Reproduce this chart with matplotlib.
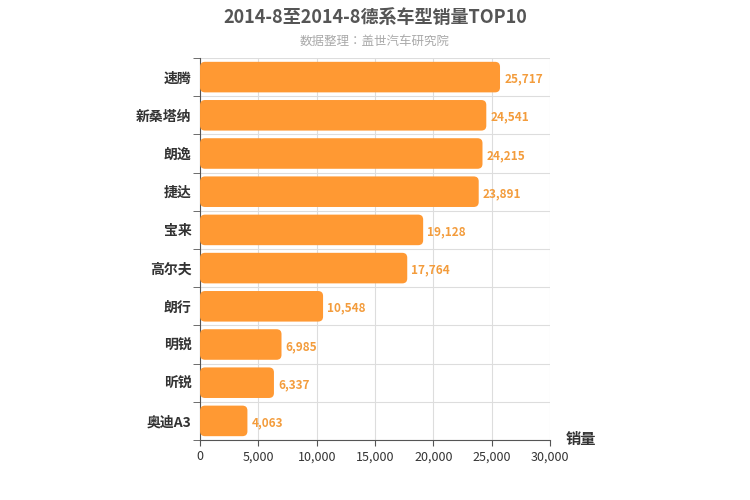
import matplotlib
matplotlib.use("Agg")
import matplotlib.pyplot as plt
from matplotlib.patches import FancyBboxPatch
from matplotlib import font_manager as fm

cjk = [f for f in fm.fontManager.ttflist if "CJK" in f.name]
names = sorted(set(f.name for f in cjk))
pick = next((n for n in names if "SC" in n), names[0] if names else "DejaVu Sans")
plt.rcParams["font.family"] = [pick, "DejaVu Sans"]

categories = ["速腾", "新桑塔纳", "朗逸", "捷达", "宝来", "高尔夫", "朗行", "明锐", "昕锐", "奥迪A3"]
values = [25717, 24541, 24215, 23891, 19128, 17764, 10548, 6985, 6337, 4063]
xticks = [0, 5000, 10000, 15000, 20000, 25000, 30000]

fig = plt.figure(figsize=(7.5, 5), dpi=100)
ax = fig.add_axes([0.2667, 0.12, 0.4666, 0.764])
n = len(categories)
ax.set_xlim(0, 30000)
ax.set_ylim(n - 0.5, -0.5)
color = "#FF9933"
for i, v in enumerate(values):
    p = FancyBboxPatch((0, i - 0.4), v, 0.8,
                       boxstyle="round,pad=0,rounding_size=430",
                       mutation_aspect=0.0003, fc=color, ec="none", zorder=3)
    ax.add_patch(p)
    ax.text(v + 350, i + 0.05, f"{v:,}", va="center", ha="left", color="#F39C3C",
            fontsize=8.5, fontweight="bold", zorder=4)
ax.set_xticks(xticks)
ax.set_xticklabels([f"{t:,}" for t in xticks], fontsize=9, color="#333")
ax.set_yticks(range(n))
ax.set_yticklabels(categories, fontsize=10, fontweight="bold", color="#333")
ax.tick_params(axis="y", length=0, pad=6)
ax.tick_params(axis="x", length=4, color="#555")
ax.set_yticks([i + 0.5 for i in range(-1, n)], minor=True)
ax.tick_params(axis="y", which="minor", length=5, color="#555")
ax.grid(axis="x", color="#dddddd", lw=0.8, zorder=0)
ax.grid(axis="y", which="minor", color="#dddddd", lw=0.8, zorder=0)
for s in ["top", "right"]:
    ax.spines[s].set_visible(False)
ax.spines["left"].set_color("#555")
ax.spines["bottom"].set_color("#555")
fig.text(0.5, 0.965, "2014-8至2014-8德系车型销量TOP10", ha="center", va="center",
         fontsize=13, fontweight="bold", color="#555")
fig.text(0.5, 0.918, "数据整理：盖世汽车研究院", ha="center", va="center",
         fontsize=9, color="#aaaaaa")
fig.text(0.775, 0.122, "销量", ha="center", va="center", fontsize=11,
         fontweight="bold", color="#333")
fig.savefig("out.png", dpi=100)
